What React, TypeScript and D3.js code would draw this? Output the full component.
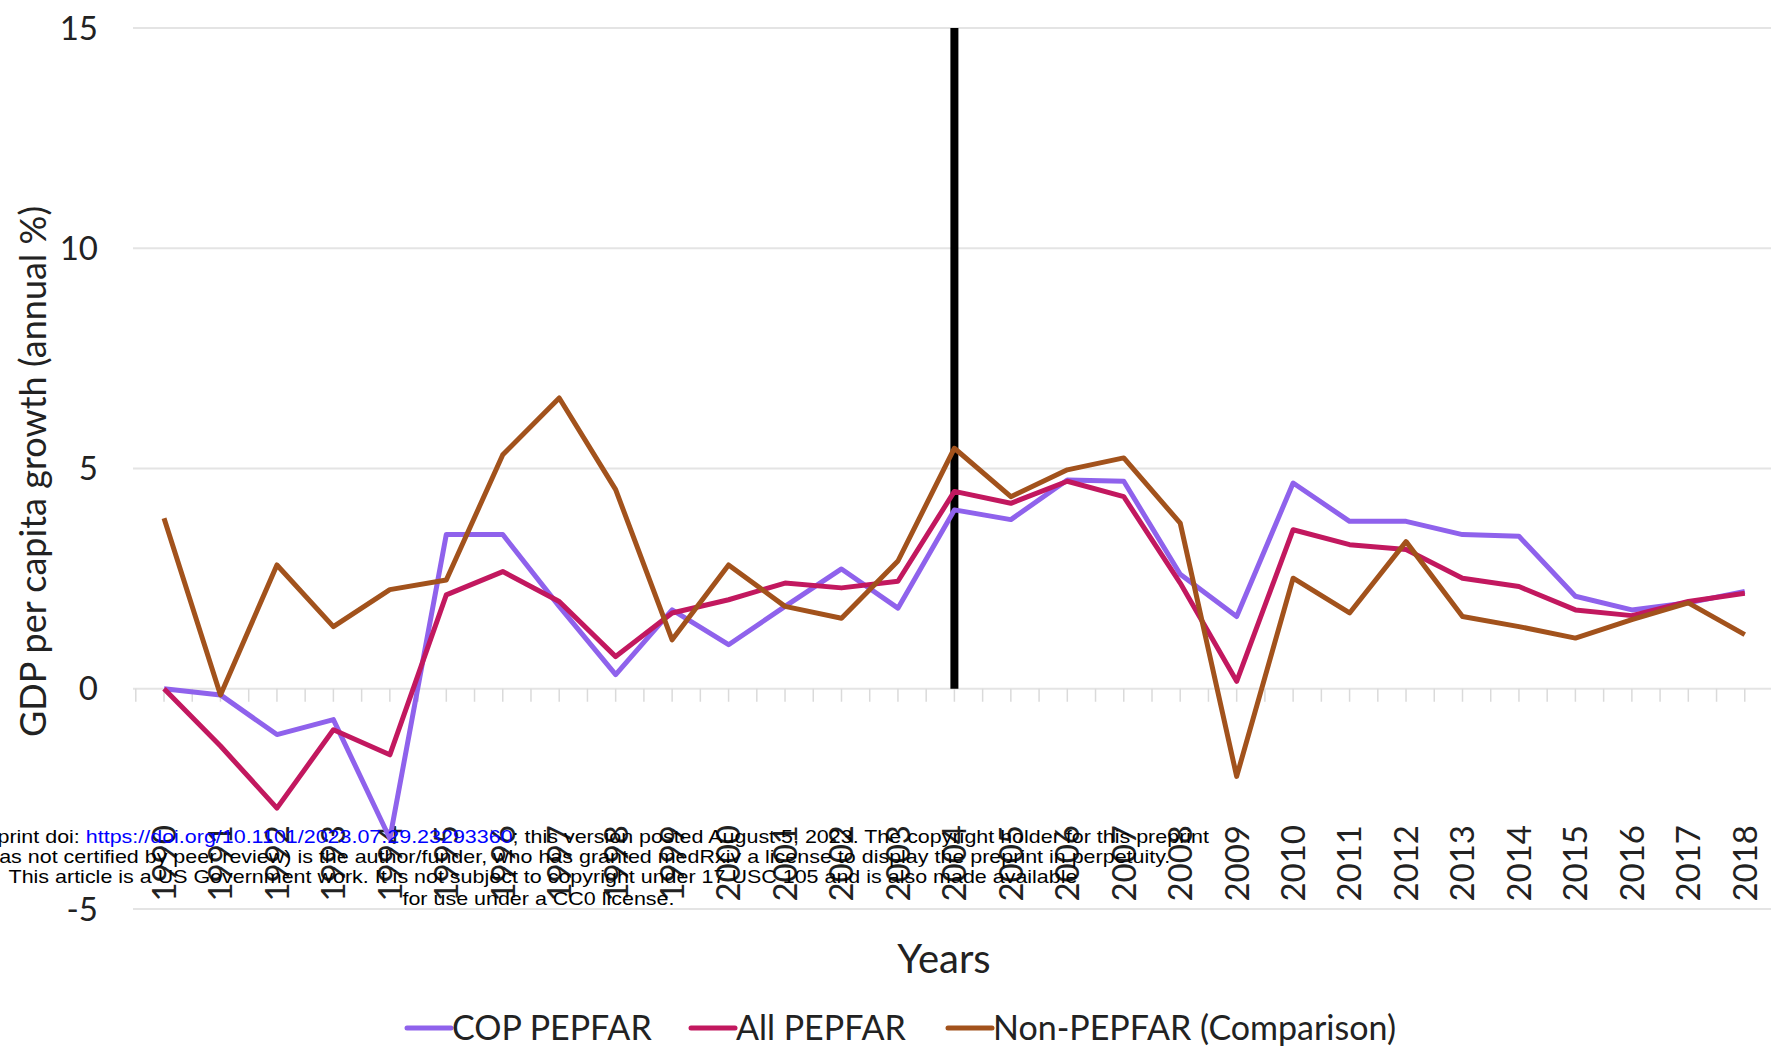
import React from "react";
import * as d3 from "d3";

const years = ["1990","1991","1992","1993","1994","1995","1996","1997","1998","1999","2000","2001","2002","2003","2004","2005","2006","2007","2008","2009","2010","2011","2012","2013","2014","2015","2016","2017","2018"];
const copPepfar = [0, -0.14, -1.04, -0.7, -3.4, 3.5, 3.5, 1.87, 0.32, 1.79, 1.0, 1.87, 2.72, 1.83, 4.06, 3.84, 4.74, 4.71, 2.6, 1.64, 4.67, 3.8, 3.8, 3.5, 3.46, 2.1, 1.79, 1.95, 2.21];
const allPepfar = [0, -1.3, -2.71, -0.93, -1.5, 2.13, 2.66, 1.98, 0.73, 1.72, 2.02, 2.4, 2.29, 2.44, 4.48, 4.21, 4.71, 4.36, 2.4, 0.17, 3.61, 3.27, 3.16, 2.51, 2.32, 1.79, 1.66, 1.98, 2.17];
const nonPepfar = [3.87, -0.14, 2.81, 1.41, 2.25, 2.47, 5.31, 6.6, 4.52, 1.11, 2.81, 1.87, 1.6, 2.9, 5.46, 4.36, 4.97, 5.24, 3.76, -1.99, 2.51, 1.72, 3.34, 1.64, 1.41, 1.15, 1.57, 1.95, 1.23];
const yTicks = [-5, 0, 5, 10, 15];
const seriesNames = ["COP PEPFAR", "All PEPFAR", "Non-PEPFAR (Comparison)"];
const seriesColors = ["#8f62ec", "#c2185f", "#a2521c"];
const markerYear = "2004";
const preprintLines = [
  "(which was not certified by peer review) is the author/funder, who has granted medRxiv a license to display the preprint in perpetuity.",
  "This article is a US Government work. It is not subject to copyright under 17 USC 105 and is also made available",
  "for use under a CC0 license.",
];

export default function App() {
  const W = 1771, H = 1058;
  const x = d3.scalePoint<string>().domain(years).range([135.8, 1773]).padding(0.5);
  const y = d3.scaleLinear().domain([-5, 15]).range([909, 28]);
  const step = x.step();
  const line = d3.line<number>().x((_, i) => x(years[i])!).y((d) => y(d)).curve(d3.curveLinear);
  const allSeries = [copPepfar, allPepfar, nonPepfar];
  const font = "Lato, 'Open Sans', sans-serif";
  const tickXs: number[] = [];
  for (let k = 0; k <= years.length * 2; k++) tickXs.push(135.8 + (k * step) / 2);
  const legendX = [407, 691, 948];
  const cx = 543;

  return (
    <svg width={W} height={H} style={{ position: "absolute", left: 0, top: 0, background: "#fff" }}>
      {yTicks.map((t) => (
        <line key={t} x1={133} x2={W} y1={y(t)} y2={y(t)} stroke="#e4e4e4" strokeWidth={2} />
      ))}
      {tickXs.map((tx, i) => (
        <line key={i} x1={tx} x2={tx} y1={y(0)} y2={y(0) + 13} stroke="#dadada" strokeWidth={1.5} />
      ))}
      {yTicks.map((t) => (
        <text key={t} x={98} y={y(t)} dy="0.35em" textAnchor="end" fontFamily={font} fontSize={33} fill="#222">
          {t}
        </text>
      ))}
      <text transform={`translate(33,${y(5) + 3}) rotate(-90)`} dy="0.35em" textAnchor="middle" fontFamily={font} fontSize={36} fill="#222">
        GDP per capita growth (annual %)
      </text>
      {years.map((yr) => (
        <text key={yr} transform={`translate(${x(yr)},825) rotate(-90)`} dy="0.36em" textAnchor="end" fontFamily={font} fontSize={33} fill="#222">
          {yr}
        </text>
      ))}
      <text x={944} y={973} textAnchor="middle" fontFamily={font} fontSize={40} fill="#222">Years</text>
      <line x1={x(markerYear)} x2={x(markerYear)} y1={y(0)} y2={y(15)} stroke="#000" strokeWidth={8} />
      {allSeries.map((s, i) => (
        <path key={i} d={line(s)!} fill="none" stroke={seriesColors[i]} strokeWidth={5} strokeLinejoin="round" />
      ))}
      {seriesNames.map((n, i) => (
        <g key={n}>
          <line x1={legendX[i]} x2={legendX[i] + 44} y1={1028} y2={1028} stroke={seriesColors[i]} strokeWidth={5} strokeLinecap="round" />
          <text x={legendX[i] + 45} y={1028} dy="0.35em" fontFamily={font} fontSize={34} fill="#222">{n}</text>
        </g>
      ))}
      <g
        transform={`translate(${cx},0) scale(1.13,1) translate(${-cx},0)`}
        fontFamily="'Liberation Sans', Arial, sans-serif"
        fontSize={19}
        fill="#000"
        textAnchor="middle"
      >
        <text x={cx} y={843}>
          medRxiv preprint doi: <tspan fill="#0000ff">https://doi.org/10.1101/2023.07.29.23293360</tspan>; this version posted August 5, 2023. The copyright holder for this preprint
        </text>
        <text x={cx} y={863}>{preprintLines[0]}</text>
        <text x={cx} y={883}>{preprintLines[1]}</text>
        <text x={cx - 4} y={905}>{preprintLines[2]}</text>
      </g>
    </svg>
  );
}
